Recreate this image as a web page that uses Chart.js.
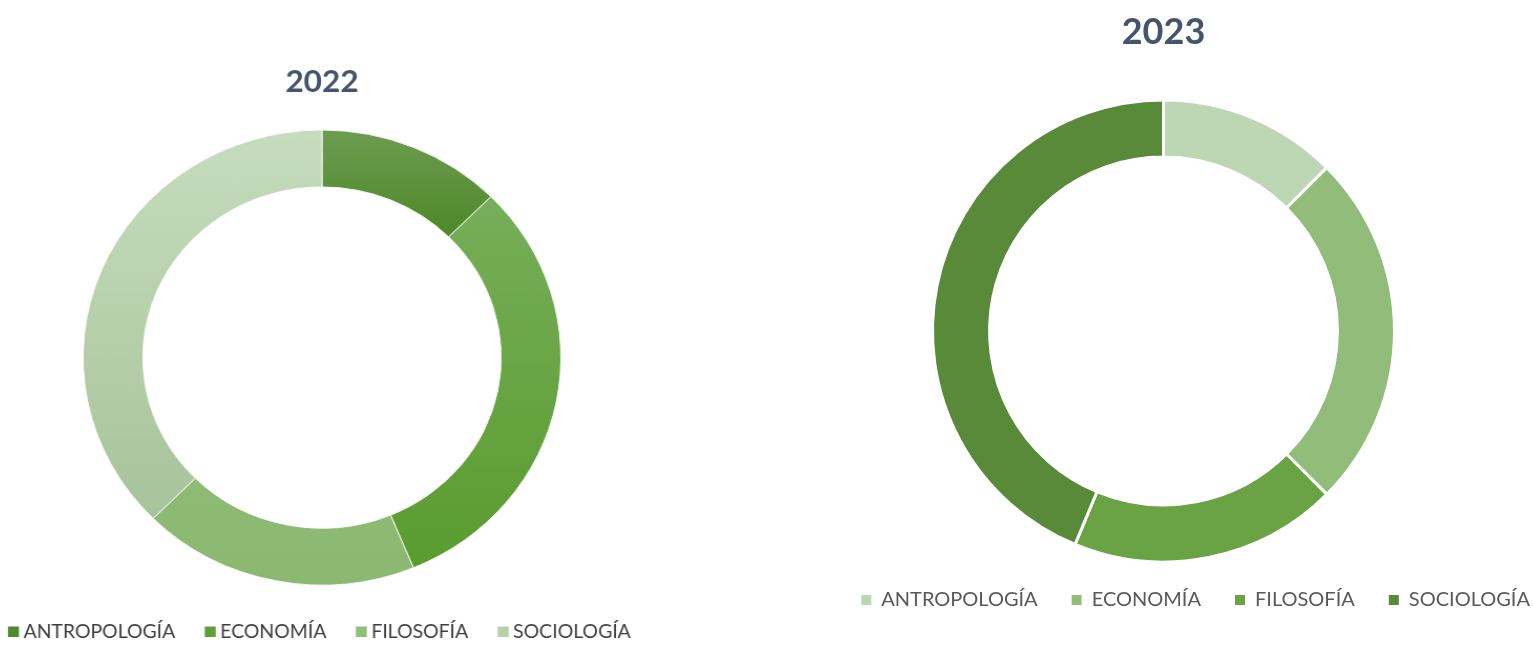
<!DOCTYPE html>
<html lang="es">
<head>
<meta charset="utf-8">
<title>Áreas 2022 / 2023</title>
<script src="https://cdn.jsdelivr.net/npm/chart.js@4.4.1/dist/chart.umd.min.js"></script>
<style>
  html, body { margin: 0; padding: 0; background: #fff; }
  body { width: 1533px; height: 645px; position: relative; overflow: hidden; }
  /* the 2022 picture is slightly stretched sideways in the original */
  #wrap2022 { position: absolute; left: -8.3px; top: 0; width: 660px; height: 651px;
              transform: scaleX(1.05); transform-origin: 50% 50%; }
  #chart2023 { position: absolute; left: 763px; top: 0; }
</style>
</head>
<body>
<div id="wrap2022"><canvas id="chart2022" width="660" height="651"></canvas></div>
<canvas id="chart2023" width="801" height="620"></canvas>

<script>
// ---- data ----
const categories = ['ANTROPOLOGÍA', 'ECONOMÍA', 'FILOSOFÍA', 'SOCIOLOGÍA'];
const values2022 = [2, 5, 3, 6];
const values2023 = [2, 4, 3, 7];

// ---- colours ----
const legend2022 = ['#4f8a2c', '#5f9f38', '#8fbf78', '#b7d1ab'];
// [top colour, bottom colour, stop of bottom colour] per slice
const grad2022 = [
    ['#6f9d52', '#4d8928', 0.24],
    ['#7db162', '#5a9c2e', 0.95],
    ['#95c27e', '#8bb971', 1.0],
    ['#c7ddbe', '#a7c39a', 0.85]
];
const colors2023 = ['#bdd6b3', '#92bc7a', '#69a343', '#588a3a'];

Chart.defaults.font.family = 'Lato';
Chart.defaults.animation = false;

const baseLabels = Chart.overrides.doughnut.plugins.legend.labels.generateLabels;
const legendLabels = fills => chart =>
    baseLabels(chart).map(l => ({ ...l, lineWidth: 0, fillStyle: fills[l.index] }));

// ---- 2022 ----
new Chart(document.getElementById('chart2022'), {
    type: 'doughnut',
    data: {
        labels: categories,
        datasets: [{
            data: values2022,
            backgroundColor: ctx => {
                const area = ctx.chart.chartArea;
                const g = grad2022[ctx.dataIndex];
                if (!area) return g[1];
                const grad = ctx.chart.ctx.createLinearGradient(0, area.top, 0, area.bottom);
                grad.addColorStop(0, g[0]);
                grad.addColorStop(g[2], g[1]);
                return grad;
            },
            borderColor: 'rgba(255,255,255,0.85)',
            borderWidth: 1
        }]
    },
    options: {
        responsive: false,
        events: [],
        radius: 227.5,
        cutout: '75%',
        plugins: {
            tooltip: { enabled: false },
            title: {
                display: true,
                text: '2022',
                color: '#44546a',
                font: { size: 30, weight: 'bold' },
                padding: { top: 64, bottom: 25.6 }
            },
            legend: {
                position: 'bottom',
                labels: {
                    font: { size: 18.5 },
                    color: '#3d3d3d',
                    usePointStyle: true,
                    pointStyle: 'rect',
                    // tiny box width so the square sits close to its text
                    boxWidth: 0.5,
                    boxHeight: 10.5,
                    padding: 33,
                    generateLabels: legendLabels(legend2022)
                }
            }
        }
    }
});

// ---- 2023 ----
new Chart(document.getElementById('chart2023'), {
    type: 'doughnut',
    data: {
        labels: categories,
        datasets: [{
            data: values2023,
            backgroundColor: colors2023,
            borderColor: '#ffffff',
            borderWidth: 3
        }]
    },
    options: {
        responsive: false,
        events: [],
        radius: 231,
        cutout: '75.3%',
        plugins: {
            tooltip: { enabled: false },
            title: {
                display: true,
                text: '2023',
                color: '#44546a',
                font: { size: 36, weight: 'bold' },
                padding: { top: 11, bottom: 51.8 }
            },
            legend: {
                position: 'bottom',
                align: 'end',
                labels: {
                    font: { size: 20 },
                    color: '#595959',
                    boxWidth: 10,
                    boxHeight: 10,
                    padding: 34,
                    generateLabels: legendLabels(colors2023)
                }
            }
        }
    }
});
</script>
</body>
</html>
